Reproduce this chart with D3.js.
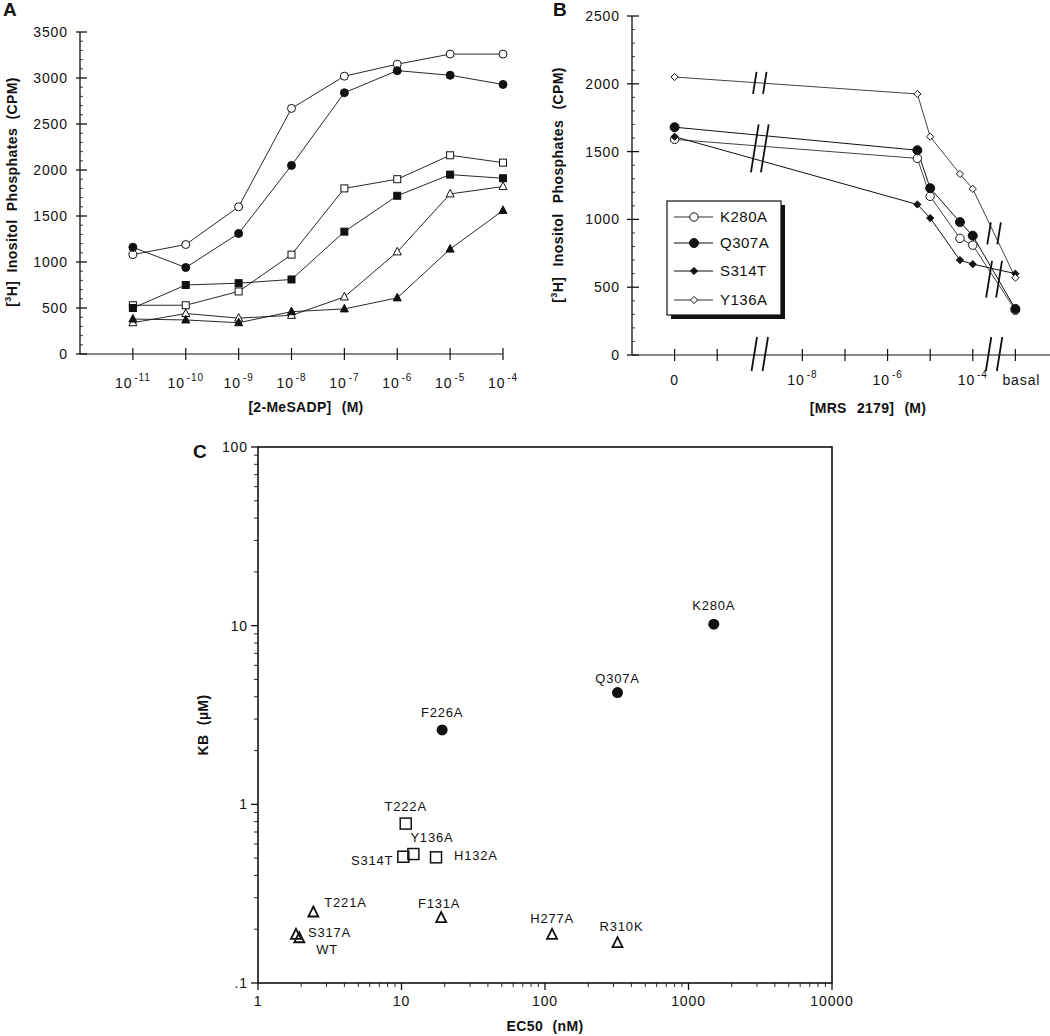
<!DOCTYPE html>
<html><head><meta charset="utf-8">
<script src="https://cdn.jsdelivr.net/npm/d3@7"></script>
<style>
body{margin:0;background:#fff}
text{font-family:"Liberation Sans",Arial,Helvetica,sans-serif;fill:#111}
</style>
</head><body>
<svg id="fig" width="1050" height="1036"></svg>
<script>
// ---------- Panel A data ----------
const aConc = [1e-11,1e-10,1e-9,1e-8,1e-7,1e-6,1e-5,1e-4];
const aTickExp = ["-11","-10","-9","-8","-7","-6","-5","-4"];
const aYTicks = [0,500,1000,1500,2000,2500,3000,3500];
const aOpenCircle   = [1080,1190,1600,2670,3020,3150,3260,3260];
const aFilledCircle = [1160,940,1310,2050,2840,3080,3030,2930];
const aOpenSquare   = [530,530,680,1080,1800,1900,2160,2080];
const aFilledSquare = [500,750,770,810,1330,1720,1950,1910];
const aOpenTriangle = [340,440,390,420,620,1110,1740,1820];
const aFilledTriangle = [380,370,340,460,490,610,1140,1560];

// ---------- Panel B data ----------
const bConc = [0,5e-6,1e-5,5e-5,1e-4,"basal"];
const bYTicks = [0,500,1000,1500,2000,2500];
const bNames = ["K280A","Q307A","S314T","Y136A"];
const bK280A = [1590,1450,1170,860,810,330];
const bQ307A = [1680,1510,1230,980,880,340];
const bS314T = [1610,1110,1010,700,670,600];
const bY136A = [2050,1925,1610,1335,1225,570];

// ---------- Panel C data ----------
const cNames = ["K280A","Q307A","F226A","T222A","Y136A","S314T","H132A","T221A","F131A","H277A","R310K","S317A","WT"];
const cEC50  = [1500,320,19.2,10.7,12.1,10.3,17.4,2.43,18.9,112,320,1.84,1.94];
const cKB    = [10.2,4.22,2.61,0.78,0.527,0.509,0.505,0.248,0.231,0.186,0.167,0.186,0.178];
const cGroup = ["circle","circle","circle","square","square","square","square","triangle","triangle","triangle","triangle","triangle","triangle"];
const cXTicks = [1,10,100,1000,10000];
const cYTicks = [0.1,1,10,100];
const cYTickLabels = [".1","1","10","100"];

// ---------- layout (positions only) ----------
const cLabelLayout = {
  K280A:{dx:0,dy:-14,a:"middle"}, Q307A:{dx:0,dy:-10,a:"middle"}, F226A:{dx:0,dy:-13,a:"middle"},
  T222A:{dx:0,dy:-13,a:"middle"}, Y136A:{dx:-3,dy:-12,a:"start"}, S314T:{dx:-10,dy:8,a:"end"},
  H132A:{dx:18,dy:3,a:"start"}, T221A:{dx:11,dy:-6,a:"start"}, F131A:{dx:-2,dy:-10,a:"middle"},
  H277A:{dx:0,dy:-12,a:"middle"}, R310K:{dx:4,dy:-12,a:"middle"}, S317A:{dx:12,dy:2,a:"start"},
  WT:{dx:17,dy:16,a:"start"}
};

const svg = d3.select("#fig");
const ink = "#111";

function marker(g, type, x, y, s) {
  if (type.includes("circle")) {
    g.append("circle").attr("cx",x).attr("cy",y).attr("r",s)
      .attr("fill", type.startsWith("filled") ? ink : "#fff").attr("stroke",ink).attr("stroke-width",1);
  } else if (type.includes("square")) {
    g.append("rect").attr("x",x-s).attr("y",y-s).attr("width",2*s).attr("height",2*s)
      .attr("fill", type.startsWith("filled") ? ink : "#fff").attr("stroke",ink).attr("stroke-width",1);
  } else if (type.includes("triangle")) {
    g.append("path").attr("d",`M${x},${y-s*1.15}L${x+s},${y+s*0.75}L${x-s},${y+s*0.75}Z`)
      .attr("fill", type.startsWith("filled") ? ink : "#fff").attr("stroke",ink).attr("stroke-width",1);
  } else if (type.includes("diamond")) {
    g.append("path").attr("d",`M${x},${y-s}L${x+s},${y}L${x},${y+s}L${x-s},${y}Z`)
      .attr("fill", type.startsWith("filled") ? ink : "#fff").attr("stroke",ink).attr("stroke-width",1);
  }
}

function yTitle(g, x, y, size, spacing) {
  const t = g.append("text").attr("transform",`translate(${x},${y}) rotate(-90)`)
    .attr("text-anchor","middle").attr("font-weight","bold").attr("font-size",size)
    .attr("letter-spacing",0.4).attr("word-spacing",spacing);
  t.append("tspan").text("[");
  t.append("tspan").attr("dy",-6).attr("font-size",size-5).text("3");
  t.append("tspan").attr("dy",6).text("H] Inositol Phosphates (CPM)");
}

// =============== PANEL A ===============
{
  const g = svg.append("g");
  const x = d3.scaleLog().domain([1e-12,1e-4]).range([80,503]);
  const y = d3.scaleLinear().domain([0,3500]).range([354,32]);
  g.append("text").attr("x",3).attr("y",16).attr("font-size",19).attr("font-weight","bold").text("A");
  g.append("line").attr("x1",x(1e-12)).attr("x2",x(1e-12)).attr("y1",y(0)).attr("y2",y(3500)).attr("stroke",ink).attr("stroke-width",1.3);
  d3.range(0,3501,100).forEach(v=>{
    const major = v%500===0;
    g.append("line").attr("x1",x(1e-12)-(major?4:0)).attr("x2",x(1e-12)+(major?7:3))
      .attr("y1",y(v)).attr("y2",y(v)).attr("stroke",ink).attr("stroke-width",major?1.3:0.8);
  });
  aYTicks.forEach(v=>{
    g.append("text").attr("x",68).attr("y",y(v)).attr("dy","0.36em").attr("text-anchor","end")
      .attr("font-size",14).attr("letter-spacing",0.9).text(v);
  });
  g.append("line").attr("x1",x(1e-12)).attr("x2",x(1e-4)).attr("y1",y(0)).attr("y2",y(0)).attr("stroke",ink).attr("stroke-width",1);
  aConc.forEach((c,i)=>{
    g.append("line").attr("x1",x(c)).attr("x2",x(c)).attr("y1",y(0)-6).attr("y2",y(0)+6).attr("stroke",ink).attr("stroke-width",1.2);
    const t = g.append("text").attr("x",x(c)).attr("y",388).attr("text-anchor","middle").attr("font-size",14).attr("letter-spacing",0.9);
    t.append("tspan").text("10");
    t.append("tspan").attr("dy",-7).attr("dx",2).attr("font-size",10).text(aTickExp[i]);
  });
  g.append("text").attr("x",306).attr("y",412).attr("text-anchor","middle").attr("font-weight","bold")
    .attr("font-size",14).attr("letter-spacing",0.3).attr("word-spacing",6).text("[2-MeSADP] (M)");
  yTitle(g, 17, 192, 14, 4);
  const series = [
    [aOpenCircle,"open circle",4], [aFilledCircle,"filled circle",4],
    [aOpenSquare,"open square",3.5], [aFilledSquare,"filled square",3.5],
    [aOpenTriangle,"open triangle",4], [aFilledTriangle,"filled triangle",4]
  ];
  const line = d3.line().x((d,i)=>x(aConc[i])).y(d=>y(d));
  series.forEach(([vals])=>{
    g.append("path").attr("d",line(vals)).attr("fill","none").attr("stroke",ink).attr("stroke-width",0.9);
  });
  series.forEach(([vals,type,s])=>{
    vals.forEach((v,i)=>marker(g,type,x(aConc[i]),y(v),s));
  });
}

// =============== PANEL B ===============
{
  const g = svg.append("g");
  const x = d3.scaleLog().domain([1e-12,6.5e-3]).range([632,1050]);
  const y = d3.scaleLinear().domain([0,2500]).range([355,16]);
  const bx = c => c===0 ? x(1e-11) : (c==="basal" ? x(1e-3) : x(c));
  g.append("text").attr("x",553).attr("y",16).attr("font-size",19).attr("font-weight","bold").text("B");
  g.append("line").attr("x1",x(1e-12)).attr("x2",x(1e-12)).attr("y1",y(0)).attr("y2",y(2500)).attr("stroke",ink).attr("stroke-width",1.3);
  d3.range(0,2501,100).forEach(v=>{
    const major = v%500===0;
    g.append("line").attr("x1",x(1e-12)-(major?5:0)).attr("x2",x(1e-12)+(major?7:3))
      .attr("y1",y(v)).attr("y2",y(v)).attr("stroke",ink).attr("stroke-width",major?1.3:0.8);
  });
  bYTicks.forEach(v=>{
    g.append("text").attr("x",620).attr("y",y(v)).attr("dy","0.36em").attr("text-anchor","end")
      .attr("font-size",14).attr("letter-spacing",0.9).text(v);
  });
  g.append("line").attr("x1",x(1e-12)).attr("x2",1050).attr("y1",y(0)).attr("y2",y(0)).attr("stroke",ink).attr("stroke-width",1);
  const bTicks = [1e-11,1e-10,1e-8,1e-7,1e-6,1e-5,1e-4,1e-3];
  bTicks.forEach(c=>{
    g.append("line").attr("x1",x(c)).attr("x2",x(c)).attr("y1",y(0)-6).attr("y2",y(0)+6).attr("stroke",ink).attr("stroke-width",1.2);
  });
  const lbl = [[1e-11,"0",null],[1e-8,"10","-8"],[1e-6,"10","-6"],[1e-4,"10","-4"],[1e-3,"basal",null]];
  lbl.forEach(([c,base,sup])=>{
    const t = g.append("text").attr("x",x(c)+(base==="basal"?6:0)).attr("y",385).attr("text-anchor","middle").attr("font-size",14).attr("letter-spacing",0.9);
    t.append("tspan").text(base);
    if (sup) t.append("tspan").attr("dy",-7).attr("dx",2).attr("font-size",10).text(sup);
  });
  g.append("text").attr("x",868).attr("y",413).attr("text-anchor","middle").attr("font-weight","bold")
    .attr("font-size",14).attr("letter-spacing",0.3).attr("word-spacing",6).text("[MRS 2179] (M)");
  yTitle(g, 563, 185, 14, 6);

  function brk(cx, y1, y2, gap) {
    const sl = (y2-y1)*0.16;
    [-gap/2, gap/2].forEach(o=>{
      g.append("line").attr("x1",cx+o+sl/2).attr("y1",y1).attr("x2",cx+o-sl/2).attr("y2",y2)
        .attr("stroke",ink).attr("stroke-width",1.8);
    });
  }
  brk(x(1e-9), y(0)-18, y(0)+16, 11);
  brk(x(Math.pow(10,-3.5)), y(0)-18, y(0)+16, 11);

  const series = [
    [bK280A,"open circle",4.2,0.8], [bQ307A,"filled circle",4.5,1],
    [bS314T,"filled diamond",3.6,1], [bY136A,"open diamond",3.6,0.8]
  ];
  const line = d3.line().x((d,i)=>bx(bConc[i])).y(d=>y(d));
  series.forEach(([vals,,,w])=>{
    g.append("path").attr("d",line(vals)).attr("fill","none").attr("stroke",ink).attr("stroke-width",w);
  });
  function yAt(vals, bxPos) {
    for (let i=0;i<vals.length-1;i++){
      const x0=bx(bConc[i]), x1=bx(bConc[i+1]);
      if (bxPos>=x0 && bxPos<=x1) { const t=(bxPos-x0)/(x1-x0); return y(vals[i])+t*(y(vals[i+1])-y(vals[i])); }
    }
    return null;
  }
  const lowerSets = [bK280A,bQ307A,bS314T];
  [[x(1e-9), 11, 12],[x(Math.pow(10,-3.5)), 8, 20]].forEach(([px,up,down])=>{
    const ys = lowerSets.map(v=>yAt(v,px));
    brk(px, d3.min(ys)-up, d3.max(ys)+down, 10);
    const yy = yAt(bY136A,px);
    brk(px, yy-11, yy+11, 10);
  });
  series.forEach(([vals,type,s])=>{
    vals.forEach((v,i)=>marker(g,type,bx(bConc[i]),y(v),s));
  });

  const L = {x:667,y:201,w:114,h:114};
  g.append("rect").attr("x",L.x+4).attr("y",L.y+4).attr("width",L.w).attr("height",L.h).attr("fill",ink);
  g.append("rect").attr("x",L.x).attr("y",L.y).attr("width",L.w).attr("height",L.h).attr("fill","#fff").attr("stroke",ink).attr("stroke-width",1.2);
  const legY = [217,243,271,300];
  series.forEach(([vals,type,s,w],i)=>{
    g.append("line").attr("x1",674).attr("x2",713).attr("y1",legY[i]).attr("y2",legY[i]).attr("stroke",ink).attr("stroke-width",w*1.1);
    marker(g,type,694,legY[i],s);
    g.append("text").attr("x",720).attr("y",legY[i]).attr("dy","0.36em").attr("font-size",15).attr("letter-spacing",0.5).text(bNames[i]);
  });
}

// =============== PANEL C ===============
{
  const g = svg.append("g");
  const x = d3.scaleLog().domain([1,10000]).range([258,832]);
  const y = d3.scaleLog().domain([0.1,100]).range([983,447]);
  g.append("text").attr("x",193).attr("y",458).attr("font-size",19).attr("font-weight","bold").text("C");
  g.append("rect").attr("x",x(1)).attr("y",y(100)).attr("width",x(10000)-x(1)).attr("height",y(0.1)-y(100))
    .attr("fill","none").attr("stroke",ink).attr("stroke-width",1.6);
  for (let d=1; d<10000; d*=10) for (let k=2;k<10;k++){
    g.append("line").attr("x1",x(d*k)).attr("x2",x(d*k)).attr("y1",y(0.1)).attr("y2",y(0.1)+4).attr("stroke",ink).attr("stroke-width",0.9);
  }
  cXTicks.forEach(v=>{
    g.append("line").attr("x1",x(v)).attr("x2",x(v)).attr("y1",y(0.1)).attr("y2",y(0.1)+7).attr("stroke",ink).attr("stroke-width",1.3);
    g.append("text").attr("x",x(v)).attr("y",1006).attr("text-anchor","middle").attr("font-size",14).attr("letter-spacing",0.9).text(v);
  });
  for (let d=0.1; d<100; d*=10) for (let k=2;k<10;k++){
    g.append("line").attr("x1",x(1)-4).attr("x2",x(1)).attr("y1",y(d*k)).attr("y2",y(d*k)).attr("stroke",ink).attr("stroke-width",0.9);
  }
  cYTicks.forEach((v,i)=>{
    g.append("line").attr("x1",x(1)-7).attr("x2",x(1)).attr("y1",y(v)).attr("y2",y(v)).attr("stroke",ink).attr("stroke-width",1.3);
    g.append("text").attr("x",248).attr("y",y(v)).attr("dy","0.36em").attr("text-anchor","end").attr("font-size",14).attr("letter-spacing",0.9).text(cYTickLabels[i]);
  });
  g.append("text").attr("x",545).attr("y",1031).attr("text-anchor","middle").attr("font-weight","bold")
    .attr("font-size",14).attr("letter-spacing",0.4).attr("word-spacing",5).text("EC50 (nM)");
  g.append("text").attr("transform","translate(208,725) rotate(-90)").attr("text-anchor","middle").attr("font-weight","bold")
    .attr("font-size",14).attr("letter-spacing",0.4).attr("word-spacing",5).text("KB (\u00B5M)");
  cNames.forEach((n,i)=>{
    const px = x(cEC50[i]), py = y(cKB[i]);
    if (cGroup[i]==="circle") g.append("circle").attr("cx",px).attr("cy",py).attr("r",5.5).attr("fill",ink);
    else if (cGroup[i]==="square") g.append("rect").attr("x",px-5.5).attr("y",py-5.5).attr("width",11).attr("height",11).attr("fill","none").attr("stroke",ink).attr("stroke-width",1.5);
    else g.append("path").attr("d",`M${px},${py-6}L${px+5},${py+4}L${px-5},${py+4}Z`).attr("fill","none").attr("stroke",ink).attr("stroke-width",1.8);
    const L = cLabelLayout[n];
    g.append("text").attr("x",px+L.dx).attr("y",py+L.dy).attr("text-anchor",L.a).attr("font-size",13).attr("letter-spacing",0.8).text(n);
  });
}
</script>
</body></html>
